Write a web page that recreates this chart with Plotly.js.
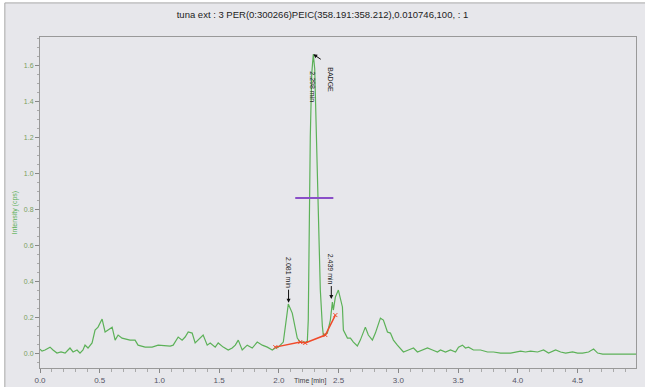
<!DOCTYPE html>
<html>
<head>
<meta charset="utf-8">
<script src="https://cdn.plot.ly/plotly-3.0.1.min.js"></script>
<style>
  html, body { margin: 0; padding: 0; background: #ffffff; }
  #chart { width: 645px; height: 387px; }
</style>
</head>
<body>
<div id="chart"></div>
<script>
// Chromatogram trace (time in min, intensity)
var time = [0.000, 0.017, 0.042, 0.084, 0.109, 0.142, 0.176, 0.210, 0.235, 0.251, 0.277, 0.310, 0.335, 0.360, 0.377, 0.402, 0.436, 0.461, 0.486, 0.520,
  0.545, 0.570, 0.604, 0.629, 0.654, 0.687, 0.712, 0.754, 0.796, 0.821, 0.880, 0.939, 0.989, 1.048, 1.090, 1.115, 1.157, 1.190, 1.215, 1.241,
  1.274, 1.299, 1.341, 1.366, 1.400, 1.425, 1.467, 1.492, 1.534, 1.576, 1.609, 1.635, 1.660, 1.693, 1.735, 1.777, 1.819, 1.861, 1.903, 1.945,
  1.970, 1.995, 2.037, 2.054, 2.079, 2.112, 2.137, 2.154, 2.179, 2.205, 2.238, 2.246, 2.255, 2.263, 2.275, 2.288, 2.300, 2.313, 2.330, 2.347,
  2.364, 2.372, 2.406, 2.431, 2.448, 2.456, 2.473, 2.498, 2.532, 2.540, 2.574, 2.599, 2.624, 2.657, 2.682, 2.724, 2.749, 2.783, 2.808, 2.850,
  2.875, 2.909, 2.934, 2.959, 2.992, 3.043, 3.085, 3.127, 3.160, 3.202, 3.244, 3.286, 3.328, 3.353, 3.395, 3.437, 3.479, 3.504, 3.537, 3.562,
  3.588, 3.629, 3.688, 3.747, 3.797, 3.856, 3.940, 4.024, 4.065, 4.107, 4.166, 4.216, 4.258, 4.317, 4.359, 4.401, 4.459, 4.501, 4.543, 4.593,
  4.635, 4.669, 4.711, 4.778, 4.990];
var intensity = [0.022, 0.011, 0.017, 0.033, 0.017, 0.000, 0.006, 0.000, 0.017, 0.028, 0.006, 0.017, 0.000, 0.017, 0.044, 0.028, 0.056, 0.128, 0.144, 0.189,
  0.117, 0.128, 0.144, 0.072, 0.100, 0.083, 0.078, 0.072, 0.072, 0.044, 0.033, 0.033, 0.044, 0.039, 0.039, 0.044, 0.089, 0.072, 0.089, 0.117,
  0.111, 0.056, 0.083, 0.100, 0.044, 0.056, 0.033, 0.056, 0.033, 0.017, 0.028, 0.044, 0.072, 0.017, 0.044, 0.028, 0.061, 0.044, 0.033, 0.017,
  0.028, 0.033, 0.061, 0.144, 0.272, 0.222, 0.144, 0.083, 0.061, 0.061, 0.061, 0.183, 0.740, 1.200, 1.550, 1.660, 1.580, 1.250, 0.740, 0.350,
  0.150, 0.100, 0.111, 0.183, 0.283, 0.239, 0.311, 0.350, 0.256, 0.128, 0.083, 0.083, 0.061, 0.039, 0.072, 0.144, 0.100, 0.072, 0.111, 0.194,
  0.183, 0.117, 0.111, 0.072, 0.044, 0.006, 0.017, 0.028, 0.006, 0.017, 0.028, 0.017, 0.006, 0.017, 0.006, 0.017, 0.006, 0.033, 0.044, 0.028,
  0.033, 0.017, 0.017, 0.006, 0.006, 0.000, 0.000, 0.011, 0.006, 0.011, 0.006, 0.017, 0.000, 0.017, 0.006, 0.000, 0.006, 0.000, 0.000, 0.006,
  0.022, 0.000, -0.006, -0.006, -0.006];

// Integration baseline (red)
var baseTime = [1.970, 2.179, 2.221, 2.389, 2.473];
var baseIntensity = [0.033, 0.061, 0.056, 0.100, 0.211];

// Peak width marker (purple)
var widthTime = [2.137, 2.456];
var widthIntensity = [0.861, 0.861];

// Peak labels
var peakTimes = [2.081, 2.439];
var peakTops = [0.28, 0.30];
var peakLabels = ['2.081 min', '2.439 min'];
var mainPeakTime = 2.288;
var mainPeakTop = 1.66;
var mainPeakLabel = '2.298 min';
var compoundLabel = 'BADGE';

var xTickVals = [0, 0.5, 1, 1.5, 2, 2.5, 3, 3.5, 4, 4.5];
var yTickVals = [0, 0.2, 0.4, 0.6, 0.8, 1.0, 1.2, 1.4, 1.6];

var traces = [
  {x: time, y: intensity, type: 'scatter', mode: 'lines',
   line: {color: '#5cb158', width: 1.2}, hoverinfo: 'skip'},
  {x: baseTime, y: baseIntensity, type: 'scatter', mode: 'lines+markers',
   line: {color: '#f04a2a', width: 1.5},
   marker: {symbol: 'x-thin', size: 4, color: '#f04a2a', line: {color: '#f04a2a', width: 1}}},
  {x: widthTime, y: widthIntensity, type: 'scatter', mode: 'lines',
   line: {color: '#8a4fc8', width: 2}}
];

var annotations = [];
for (var i = 0; i < peakTimes.length; i++) {
  annotations.push({x: peakTimes[i], y: peakTops[i], xref: 'x', yref: 'y',
    text: peakLabels[i], textangle: 90, showarrow: true, ax: 0, ay: -30,
    arrowhead: 2, arrowsize: 0.8, arrowwidth: 1, arrowcolor: '#111',
    font: {family: 'Arial, Liberation Sans, sans-serif', size: 7, color: '#222'}});
}
annotations.push({x: mainPeakTime, y: mainPeakTop, xref: 'x', yref: 'y', text: '',
  showarrow: true, ax: 9, ay: 6, arrowhead: 2, arrowsize: 0.8, arrowwidth: 1, arrowcolor: '#111'});
annotations.push({x: 2.28, y: 1.48, xref: 'x', yref: 'y', text: mainPeakLabel, textangle: 90,
  showarrow: false, font: {family: 'Arial, Liberation Sans, sans-serif', size: 7, color: '#222'}});
annotations.push({x: 2.43, y: 1.52, xref: 'x', yref: 'y', text: compoundLabel, textangle: 90,
  showarrow: false, font: {family: 'Arial, Liberation Sans, sans-serif', size: 7, color: '#222'}});
annotations.push({x: -0.052, y: 0.47, xref: 'paper', yref: 'paper', text: 'Intensity (cps)', textangle: -90,
  showarrow: false, font: {family: 'Arial, Liberation Sans, sans-serif', size: 7, color: '#5cb158'}});
annotations.push({x: 0.453, y: 0, yshift: -19, xref: 'paper', yref: 'paper', yanchor: 'bottom', text: 'Time [min]',
  showarrow: false, font: {family: 'Arial, Liberation Sans, sans-serif', size: 7, color: '#444'}});

var layout = {
  width: 645, height: 387,
  margin: {l: 40, r: 9, t: 37, b: 19, pad: 0},
  paper_bgcolor: '#ffffff',
  plot_bgcolor: '#ffffff',
  showlegend: false,
  title: {text: 'tuna ext : 3 PER(0:300266)PEIC(358.191:358.212),0.010746,100, : 1',
    x: 0.5, xref: 'container', y: 0.962, yref: 'container', yanchor: 'middle',
    font: {family: 'Arial, Liberation Sans, sans-serif', size: 9.5, color: '#222'}},
  xaxis: {range: [0, 4.99], tickvals: xTickVals, tickformat: '.1f', ticks: 'outside', ticklen: 4,
    tickcolor: '#888', showgrid: false, zeroline: false, showline: true, linecolor: '#999', mirror: true,
    minor: {dtick: 0.1, ticks: 'outside', ticklen: 2.5, tickcolor: '#aaa', showgrid: false},
    tickfont: {family: 'Arial, Liberation Sans, sans-serif', size: 8, color: '#556'}},
  yaxis: {range: [-0.083, 1.756], tickvals: yTickVals, tickformat: '.1f', ticks: 'outside', ticklen: 4,
    tickcolor: '#888', showgrid: false, zeroline: false, showline: true, linecolor: '#999', mirror: true,
    minor: {dtick: 0.05, ticks: 'outside', ticklen: 2.5, tickcolor: '#aaa', showgrid: false},
    tickfont: {family: 'Arial, Liberation Sans, sans-serif', size: 7, color: '#7a9e5e'}},
  shapes: [
    {type: 'rect', xref: 'paper', yref: 'paper', x0: -0.059, x1: 1.03, y0: -0.07, y1: 1.103,
     layer: 'below', fillcolor: '#e7e7eb', line: {color: '#a8a8a8', width: 1}}
  ],
  annotations: annotations
};

Plotly.newPlot('chart', traces, layout, {displayModeBar: false, staticPlot: true});
</script>
</body>
</html>
